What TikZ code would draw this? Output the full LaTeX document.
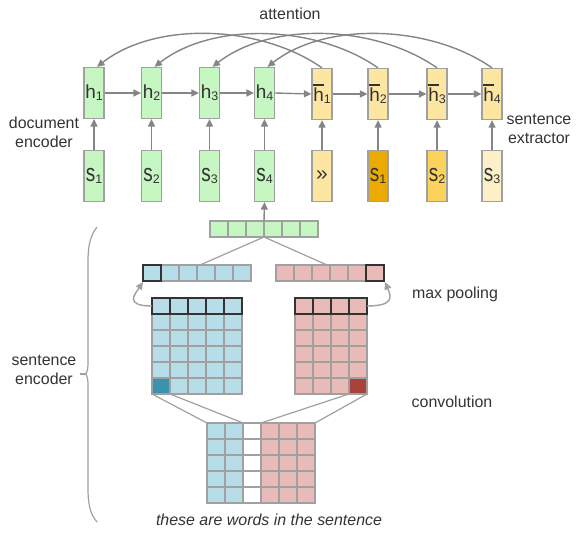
\documentclass[tikz,border=0pt]{standalone}
\usepackage{fontspec}
\usepackage{graphicx}
\setmainfont{Liberation Sans}
\usetikzlibrary{arrows.meta,calc}
\definecolor{gfill}{HTML}{C6F6C2}
\definecolor{yfill}{HTML}{FDE6A2}
\definecolor{yA}{HTML}{EAAA00}
\definecolor{yB}{HTML}{FAD25C}
\definecolor{yC}{HTML}{FDF0C8}
\definecolor{bfill}{HTML}{B6DDE8}
\definecolor{bdark}{HTML}{3A93AD}
\definecolor{pfill}{HTML}{E8BAB8}
\definecolor{pdark}{HTML}{A8433A}
\definecolor{boxline}{HTML}{A0A0A0}
\definecolor{arrgrey}{HTML}{858585}
\definecolor{txt}{HTML}{333333}
\definecolor{darkline}{HTML}{333333}
\newcommand{\hlab}[1]{{\fontsize{19}{19}\selectfont h\raisebox{-2bp}{\fontsize{12.5}{12.5}\selectfont #1}}}
\newcommand{\hbarlab}[1]{{\fontsize{19}{19}\selectfont \makebox[0pt][l]{\raisebox{16bp}{\rule{10.5bp}{1.2bp}}}h\raisebox{-2bp}{\fontsize{12.5}{12.5}\selectfont #1}}}
\newcommand{\slab}[1]{{\fontsize{19}{19}\selectfont \scalebox{1}[1.3]{s}\raisebox{-2bp}{\fontsize{12.5}{12.5}\selectfont #1}}}
\begin{document}
\begin{tikzpicture}[x=1bp,y=-1bp,
  box/.style={draw=boxline, line width=1.3bp, minimum width=20bp, minimum height=51bp, inner sep=0pt, text=txt},
  gbox/.style={box, fill=gfill},
  ybox/.style={box, fill=yfill},
  arr/.style={draw=arrgrey, line width=1.4bp, -{Triangle[length=7.5bp,width=7bp]}},
  thin/.style={draw=boxline, line width=1.2bp},
  cell/.style={draw=boxline, line width=1.1bp, minimum width=18bp, minimum height=16bp, inner sep=0pt, outer sep=0pt},
  dcell/.style={draw=darkline, line width=1.4bp, minimum width=18bp, minimum height=16bp, inner sep=0pt, outer sep=0pt},
  lbl/.style={font=\fontsize{16}{19}\selectfont, align=center, text=txt, inner sep=0pt}]
\useasboundingbox (0,0) rectangle (576,533);

% ---- top: document encoder / sentence extractor
\node[gbox] (h1) at (94,93) {\hlab{1}};
\node[gbox] (h2) at (151.5,93) {\hlab{2}};
\node[gbox] (h3) at (209.5,93) {\hlab{3}};
\node[gbox] (h4) at (264.5,93) {\hlab{4}};
\node[ybox] (hb1) at (322,94) {\hbarlab{1}};
\node[ybox] (hb2) at (378,94) {\hbarlab{2}};
\node[ybox] (hb3) at (437,94) {\hbarlab{3}};
\node[ybox] (hb4) at (492,94) {\hbarlab{4}};

\node[gbox] (s1) at (94,176) {\slab{1}};
\node[gbox] (s2) at (151.5,176) {\slab{2}};
\node[gbox] (s3) at (209.5,176) {\slab{3}};
\node[gbox] (s4) at (264.5,176) {\slab{4}};
\node[ybox] (e0) at (322,176) {{\fontsize{21}{21}\selectfont »}};
\node[box, fill=yA] (e1) at (378,176) {\slab{1}};
\node[box, fill=yB] (e2) at (437,176) {\slab{2}};
\node[box, fill=yC] (e3) at (492,176) {\slab{3}};

\foreach \a/\b in {h1/h2,h2/h3,h3/h4,h4/hb1,hb1/hb2,hb2/hb3,hb3/hb4}
  \draw[arr] (\a.east) -- (\b.west);
\foreach \a/\b in {s1/h1,s2/h2,s3/h3,s4/h4,e0/hb1,e1/hb2,e2/hb3,e3/hb4}
  \draw[arr] (\a.north) -- (\b.south);

\foreach \a/\b in {hb1/h1,hb2/h2,hb3/h3,hb4/h4}
  \draw[arr] (\a.north) to[out=145,in=38,looseness=0.85] ($(\b.north)+(3,0)$);

\node[lbl] (att) at (290,14) {attention};
\node[lbl] (docenc) at (44,132) {document\\encoder};
\node[lbl] (sentext) at (539,129) {sentence\\extractor};

% ---- sentence representation vector
\foreach \i in {1,...,6}
  \node[cell, fill=gfill] (gv\i) at ({210+18*(\i-0.5)},229) {};
\draw[arr] (gv3.north east) -- (s4.south);

% ---- pooled vectors
\foreach \i in {1,...,6} {
  \node[cell, fill=bfill] (bv\i) at ({143+18*(\i-0.5)},273) {};
  \node[cell, fill=pfill] (pv\i) at ({276+18*(\i-0.5)},273) {};
}
\node[dcell, fill=bfill] at (bv1) {};
\node[dcell, fill=pfill] at (pv6) {};
\draw[thin] (gv3.south east) -- ($(bv4.north)+(-6,0)$);
\draw[thin] (gv3.south east) -- ($(pv3.north)+(6,0)$);

% ---- feature maps
\foreach \r in {1,...,6} {
  \foreach \c in {1,...,5}
    \node[cell, fill=bfill] (bm\r\c) at ({152+18*(\c-0.5)},{298+16*(\r-0.5)}) {};
  \foreach \c in {1,...,4}
    \node[cell, fill=pfill] (pm\r\c) at ({295+18*(\c-0.5)},{298+16*(\r-0.5)}) {};
}
\node[cell, fill=bdark] at (bm61) {};
\node[cell, fill=pdark] at (pm64) {};
\foreach \c in {1,...,5}
  \node[dcell, fill=bfill] at (bm1\c) {};
\foreach \c in {1,...,4}
  \node[dcell, fill=pfill] at (pm1\c) {};

\draw[arr, draw=boxline] (bm11.west) .. controls +(-28,0) and +(-8,12) .. ($(bv1.south west)+(0,1)$);
\draw[arr, draw=boxline] (pm14.east) .. controls +(28,0) and +(6,14) .. ($(pv6.south east)+(1,1)$);

% ---- word embeddings
\foreach \r in {1,...,5} {
  \foreach \c in {1,2}
    \node[cell, fill=bfill] (wm\r\c) at ({207+18*(\c-0.5)},{423+16*(\r-0.5)}) {};
  \node[cell, fill=white] (wm\r3) at ({207+18*(2.5)},{423+16*(\r-0.5)}) {};
  \foreach \c in {4,5,6}
    \node[cell, fill=pfill] (wm\r\c) at ({207+18*(\c-0.5)},{423+16*(\r-0.5)}) {};
}
\draw[thin] (bm61.south west) -- (wm11.north west);
\draw[thin] (bm61.south east) -- (wm12.north east);
\draw[thin] (pm64.south west) -- (wm14.north west);
\draw[thin] (pm64.south east) -- (wm16.north east);

\node[lbl, font=\fontsize{16}{19}\selectfont\itshape] (words) at (269,520) {these are words in the sentence};
\node[lbl] (mp) at (455,294) {max pooling};
\node[lbl] (conv) at (452,402) {convolution};

% ---- brace
\draw[thin] (97,227) .. controls (90,236) and (88,246) .. (88,262) -- (88,362)
  .. controls (88,370) and (87,372) .. (86,374) coordinate (tip)
  .. controls (87,376) and (88,378) .. (88,386) -- (88,488)
  .. controls (88,504) and (90,514) .. (97,522);
\node[lbl] (senc) at (44,370) {sentence\\encoder};
\draw[thin] (senc.east) ++(3,4) coordinate (tk) -- (tip);
\end{tikzpicture}
\end{document}
